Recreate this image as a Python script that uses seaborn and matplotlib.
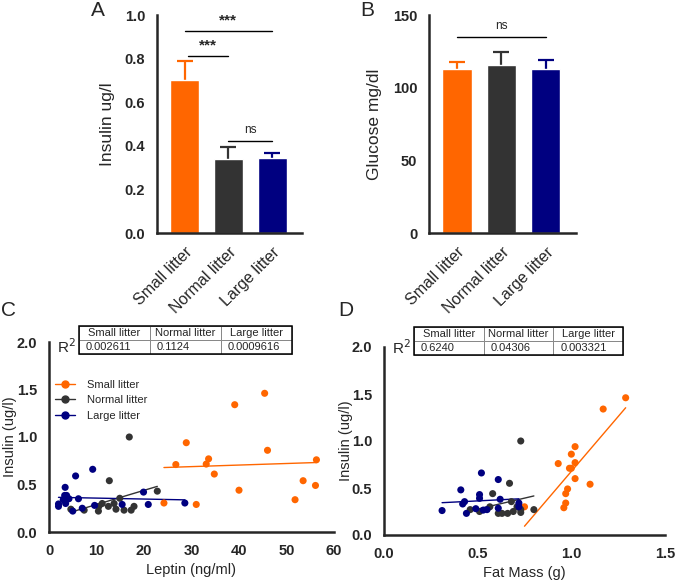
import numpy as np
import pandas as pd
import seaborn as sns
import matplotlib.pyplot as plt
from matplotlib.lines import Line2D
from matplotlib.patches import Rectangle
from matplotlib.ticker import FormatStrFormatter

# --- data ---
groups = ["Small litter", "Normal litter", "Large litter"]
colors = ["#FF6600", "#333333", "#000080"]

insulin_mean = [0.70, 0.340, 0.343]
insulin_sem = [0.090, 0.055, 0.025]
glucose_mean = [112.8, 115.4, 112.8]
glucose_sem = [5.1, 9.3, 6.0]

# panel C: leptin vs insulin
small_leptin = [24.2, 26.7, 28.9, 31.0, 33.1, 33.6, 34.8, 39.1, 40.0, 45.4, 46.0, 51.8, 53.5, 56.1, 56.3]
small_ins_c = [0.305, 0.71, 0.94, 0.29, 0.715, 0.77, 0.61, 1.34, 0.44, 1.46, 0.86, 0.34, 0.54, 0.49, 0.76]
normal_leptin = [4.6, 7.4, 10.4, 10.5, 11.2, 12.5, 12.7, 13.7, 14.1, 14.9, 15.8, 16.9, 17.3, 17.9, 22.8]
normal_ins_c = [0.24, 0.23, 0.22, 0.27, 0.30, 0.27, 0.54, 0.30, 0.24, 0.355, 0.23, 1.00, 0.23, 0.27, 0.43]
large_leptin = [2.0, 2.0, 3.0, 3.3, 3.4, 3.5, 3.7, 4.2, 5.0, 5.6, 6.2, 7.0, 9.2, 9.6, 15.4, 19.9, 20.9, 28.6]
large_ins_c = [0.27, 0.295, 0.34, 0.385, 0.47, 0.30, 0.385, 0.35, 0.22, 0.59, 0.35, 0.25, 0.66, 0.28, 0.29, 0.42, 0.29, 0.305]
r2_leptin = ["0.002611", "0.1124", "0.0009616"]

# panel D: fat mass vs insulin
small_fat = [1.29, 1.17, 1.02, 1.00, 1.02, 0.99, 1.00, 1.02, 0.93, 1.10, 0.98, 0.97, 0.97, 0.96, 0.75]
small_ins_d = [1.46, 1.34, 0.94, 0.86, 0.77, 0.71, 0.71, 0.60, 0.76, 0.54, 0.49, 0.44, 0.34, 0.29, 0.30]
normal_fat = [0.46, 0.51, 0.565, 0.58, 0.61, 0.63, 0.66, 0.67, 0.68, 0.69, 0.71, 0.73, 0.73, 0.73, 0.80]
normal_ins_d = [0.27, 0.25, 0.30, 0.44, 0.23, 0.23, 0.23, 0.55, 0.355, 0.25, 0.30, 0.24, 0.27, 1.00, 0.27]
large_fat = [0.31, 0.41, 0.42, 0.43, 0.44, 0.49, 0.51, 0.51, 0.52, 0.53, 0.55, 0.61, 0.61, 0.62, 0.72, 0.72]
large_ins_d = [0.26, 0.48, 0.33, 0.355, 0.23, 0.28, 0.43, 0.39, 0.66, 0.265, 0.27, 0.59, 0.285, 0.38, 0.34, 0.30]
r2_fat = ["0.6240", "0.04306", "0.003321"]


def style_axes(ax):
    sns.despine(ax=ax)
    for side in ["left", "bottom"]:
        ax.spines[side].set_linewidth(1.8)
    ax.tick_params(width=1.8, length=5, labelsize=10.5)
    for lab in ax.get_yticklabels() + ax.get_xticklabels():
        lab.set_fontweight("bold")


def bar_panel(ax, means, sems, ylabel, ylim, yticks, label_x):
    df = pd.DataFrame({"group": groups, "value": means})
    sns.barplot(data=df, x="group", y="value", hue="group", palette=colors,
                saturation=1, errorbar=None, width=0.66, legend=False, ax=ax,
                zorder=2)
    # symmetric bars drawn behind the columns, so only the upper half shows
    for i, (m, s) in enumerate(zip(means, sems)):
        ax.errorbar(i, m, yerr=s, color=colors[i], capsize=6,
                    elinewidth=1.6, capthick=1.6, zorder=1)
    ax.set_xlim(-0.63, 2.68)
    ax.set_ylim(*ylim)
    ax.set_yticks(yticks)
    ax.set_xlabel("")
    ax.set_ylabel(ylabel, fontsize=12.5)
    ax.yaxis.set_label_coords(label_x, 0.5)
    style_axes(ax)
    ax.set_xticks(range(3))
    ax.set_xticklabels(groups, rotation=45, ha="right", rotation_mode="anchor",
                       fontsize=11.5, fontweight="normal")


def sig(ax, x0, x1, y, text, dy, size, weight):
    ax.plot([x0, x1], [y, y], color="black", lw=1)
    ax.text((x0 + x1) / 2, y + dy, text, ha="center", va="bottom",
            fontsize=size, fontweight=weight)


def r2_table(ax, values, bbox):
    tab = ax.table(cellText=[values], colLabels=groups, cellLoc="left",
                   bbox=bbox)
    tab.auto_set_font_size(False)
    tab.set_fontsize(8)
    for cell in tab.get_celld().values():
        cell.set_edgecolor("#888888")
        cell.set_linewidth(0.7)
        cell.PAD = 0.1
    ax.add_patch(Rectangle((bbox[0], bbox[1]), bbox[2], bbox[3],
                           transform=ax.transAxes, fill=False,
                           edgecolor="black", lw=1.1, clip_on=False, zorder=10))
    ax.text(bbox[0] - 0.012, bbox[1] + bbox[3] * 0.25, "R$^2$", transform=ax.transAxes,
            ha="right", va="center", fontsize=11)


def scatter_panel(ax, xs, ys, xlabel, xlim, xticks, fmt, label_x):
    for x, y, c in zip(xs, ys, colors):
        sns.scatterplot(x=x, y=y, color=c, s=26, edgecolor="none", ax=ax,
                        zorder=3, clip_on=False)
        sns.regplot(x=np.array(x), y=np.array(y), scatter=False, ci=None,
                    truncate=True, color=c, line_kws={"lw": 1.0}, ax=ax)
    ax.set_xlim(*xlim)
    ax.set_ylim(0, 2.0)
    ax.set_xticks(xticks)
    ax.set_yticks([0, 0.5, 1.0, 1.5, 2.0])
    ax.xaxis.set_major_formatter(FormatStrFormatter(fmt))
    ax.yaxis.set_major_formatter(FormatStrFormatter("%.1f"))
    ax.set_xlabel(xlabel, fontsize=10.5)
    ax.set_ylabel("Insulin (ug/l)", fontsize=10.5)
    ax.yaxis.set_label_coords(label_x, 0.5)
    style_axes(ax)


def main():
    sns.set_style("white")
    plt.rcParams["font.family"] = ["Liberation Sans", "DejaVu Sans"]
    fig = plt.figure(figsize=(6.75, 5.8), dpi=100)

    W, H = 675, 580

    def box(l, r, t, b):
        return [l / W, 1 - b / H, (r - l) / W, (b - t) / H]

    ax_a = fig.add_axes(box(157, 302, 15, 233))
    bar_panel(ax_a, insulin_mean, insulin_sem, "Insulin ug/l", (0, 1.0),
              [0, 0.2, 0.4, 0.6, 0.8, 1.0], -0.29)
    ax_a.yaxis.set_major_formatter(FormatStrFormatter("%.1f"))
    sig(ax_a, 0, 2, 0.927, "***", 0.018, 11, "bold")
    sig(ax_a, 0.07, 1, 0.812, "***", 0.018, 11, "bold")
    sig(ax_a, 1, 2, 0.423, "ns", 0.022, 8.5, "normal")

    ax_b = fig.add_axes(box(429, 576, 15, 233))
    bar_panel(ax_b, glucose_mean, glucose_sem, "Glucose mg/dl", (0, 150),
              [0, 50, 100, 150], -0.32)
    sig(ax_b, 0, 2, 135, "ns", 3.2, 8.5, "normal")

    ax_c = fig.add_axes(box(49, 334, 342, 532))
    scatter_panel(ax_c, [small_leptin, normal_leptin, large_leptin],
                  [small_ins_c, normal_ins_c, large_ins_c],
                  "Leptin (ng/ml)", (0, 60), range(0, 61, 10), "%d", -0.112)
    r2_table(ax_c, r2_leptin, [0.105, 0.937, 0.747, 0.147])
    handles = [Line2D([0], [0], color=c, marker="o", markersize=5, lw=1)
               for c in colors]
    ax_c.legend(handles, groups, loc="upper left", bbox_to_anchor=(-0.015, 0.855),
                frameon=False, fontsize=8, handlelength=1.8,
                handletextpad=1.1, labelspacing=0.5)

    ax_d = fig.add_axes(box(384, 665, 347, 535))
    scatter_panel(ax_d, [small_fat, normal_fat, large_fat],
                  [small_ins_d, normal_ins_d, large_ins_d],
                  "Fat Mass (g)", (0, 1.5), [0, 0.5, 1.0, 1.5], "%.1f", -0.11)
    r2_table(ax_d, r2_fat, [0.107, 0.957, 0.744, 0.149])

    for letter, x, y in [("A", 98, 10), ("B", 367, 10), ("C", 8, 311), ("D", 346, 311)]:
        fig.text(x / W, 1 - y / H, letter, ha="center", va="center", fontsize=15)

    fig.savefig("out.png", dpi=100)


if __name__ == "__main__":
    main()
